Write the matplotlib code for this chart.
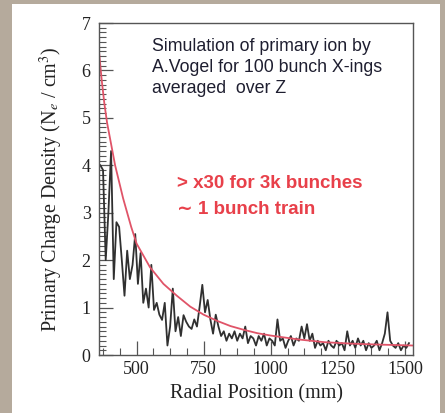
import numpy as np
import matplotlib
matplotlib.use("Agg")
import matplotlib.pyplot as plt
from matplotlib.patches import Rectangle
from matplotlib.ticker import MultipleLocator

plt.rcParams['mathtext.fontset'] = 'stix'

# primary ion density, 10 mm bins, first bin centre at 365 mm
bin_c0 = 365
bin_w = 10
density = [4.0, 3.9, 2.0, 3.0, 4.3, 1.6, 2.8, 2.7, 2.0, 1.25,
           2.2, 1.6, 1.9, 2.55, 1.5, 2.15, 1.1, 1.4, 1.0, 1.9,
           0.95, 1.1, 0.85, 0.74, 1.1, 0.2, 0.6, 1.4, 0.5, 0.8,
           0.4, 0.84, 0.7, 0.6, 0.55, 0.75, 0.6, 1.02, 1.48, 0.9,
           1.16, 0.75, 0.45, 0.85, 0.6, 0.4, 0.5, 0.3, 0.45, 0.35,
           0.5, 0.3, 0.45, 0.35, 0.6, 0.25, 0.4, 0.35, 0.2, 0.4,
           0.3, 0.45, 0.2, 0.35, 0.3, 0.2, 0.75, 0.3, 0.35, 0.15,
           0.3, 0.4, 0.2, 0.35, 0.3, 0.6, 0.35, 0.65, 0.3, 0.45,
           0.15, 0.3, 0.2, 0.25, 0.1, 0.3, 0.2, 0.15, 0.3, 0.2,
           0.25, 0.1, 0.5, 0.2, 0.3, 0.15, 0.35, 0.2, 0.3, 0.1,
           0.25, 0.15, 0.2, 0.3, 0.1, 0.25, 0.45, 0.9, 0.3, 0.2,
           0.15, 0.25, 0.1, 0.2, 0.15, 0.25]

# red scaling curve
curve_x = [360, 370, 380, 390, 400, 420, 450, 480, 500, 550, 600, 650, 700,
           750, 800, 850, 900, 950, 1000, 1100, 1200, 1300, 1400, 1530]
curve_y = [6.4, 5.8, 5.3, 4.9, 4.6, 4.0, 3.3, 2.7, 2.35, 1.85, 1.5, 1.25, 1.02,
           0.85, 0.72, 0.61, 0.53, 0.46, 0.41, 0.33, 0.27, 0.24, 0.22, 0.2]

note_lines = ['Simulation of primary ion by', 'A.Vogel for 100 bunch X-ings',
              'averaged  over Z']
red_lines = ['> x30 for 3k bunches', '\u223c 1 bunch train']

centres = bin_c0 + bin_w * np.arange(len(density))

fig = plt.figure(figsize=(4.45, 4.13), dpi=100, facecolor='#b5aa9c')
fig.patches.append(Rectangle((12 / 445, 0), 428 / 445, 409 / 413,
                             transform=fig.transFigure, facecolor='white',
                             edgecolor='none', zorder=-5))

ax = fig.add_axes([99 / 445, 58 / 413, 314 / 445, 332 / 413])
ax.plot(centres, density, color='#303030', lw=1.3)
ax.plot(curve_x, curve_y, color='#e05468', lw=1.3)

ax.set_xlim(360, 1530)
ax.set_ylim(0, 7)
ax.xaxis.set_major_locator(MultipleLocator(250))
ax.xaxis.set_minor_locator(MultipleLocator(62.5))
ax.yaxis.set_major_locator(MultipleLocator(1))
ax.yaxis.set_minor_locator(MultipleLocator(0.1))
ax.tick_params(which='both', direction='in', top=False, right=False,
               color='#555555', labelsize=13, labelfontfamily='Liberation Serif',
               labelcolor='#222222')
ax.tick_params(which='major', length=10, width=0.9)
ax.tick_params(which='minor', length=5, width=0.8)
ax.tick_params(axis='y', pad=6)
ax.tick_params(axis='x', pad=4)
for sp in ax.spines.values():
    sp.set_color('#555555')
    sp.set_linewidth(1.0)

ax.set_xlabel('Radial Position (mm)', family='Liberation Serif', fontsize=14.5,
              color='#222222', labelpad=5)
ax.set_ylabel(r'Primary Charge Density (N$_e$ / cm$^3$)', family='Liberation Serif',
              fontsize=14.5, color='#222222', labelpad=12)

for i, line in enumerate(note_lines):
    ax.text(0.169, 0.928 - 0.062 * i, line, transform=ax.transAxes,
            ha='left', va='center', fontsize=12.8,
            family='Liberation Sans', color='#1e1e30')
for i, line in enumerate(red_lines):
    ax.text(0.248, 0.518 - 0.081 * i, line, transform=ax.transAxes,
            ha='left', va='center', fontsize=13.5, fontweight='bold',
            family=['Liberation Sans', 'DejaVu Sans'], color='#e8404a')

fig.savefig('out.png', dpi=100, facecolor=fig.get_facecolor())
